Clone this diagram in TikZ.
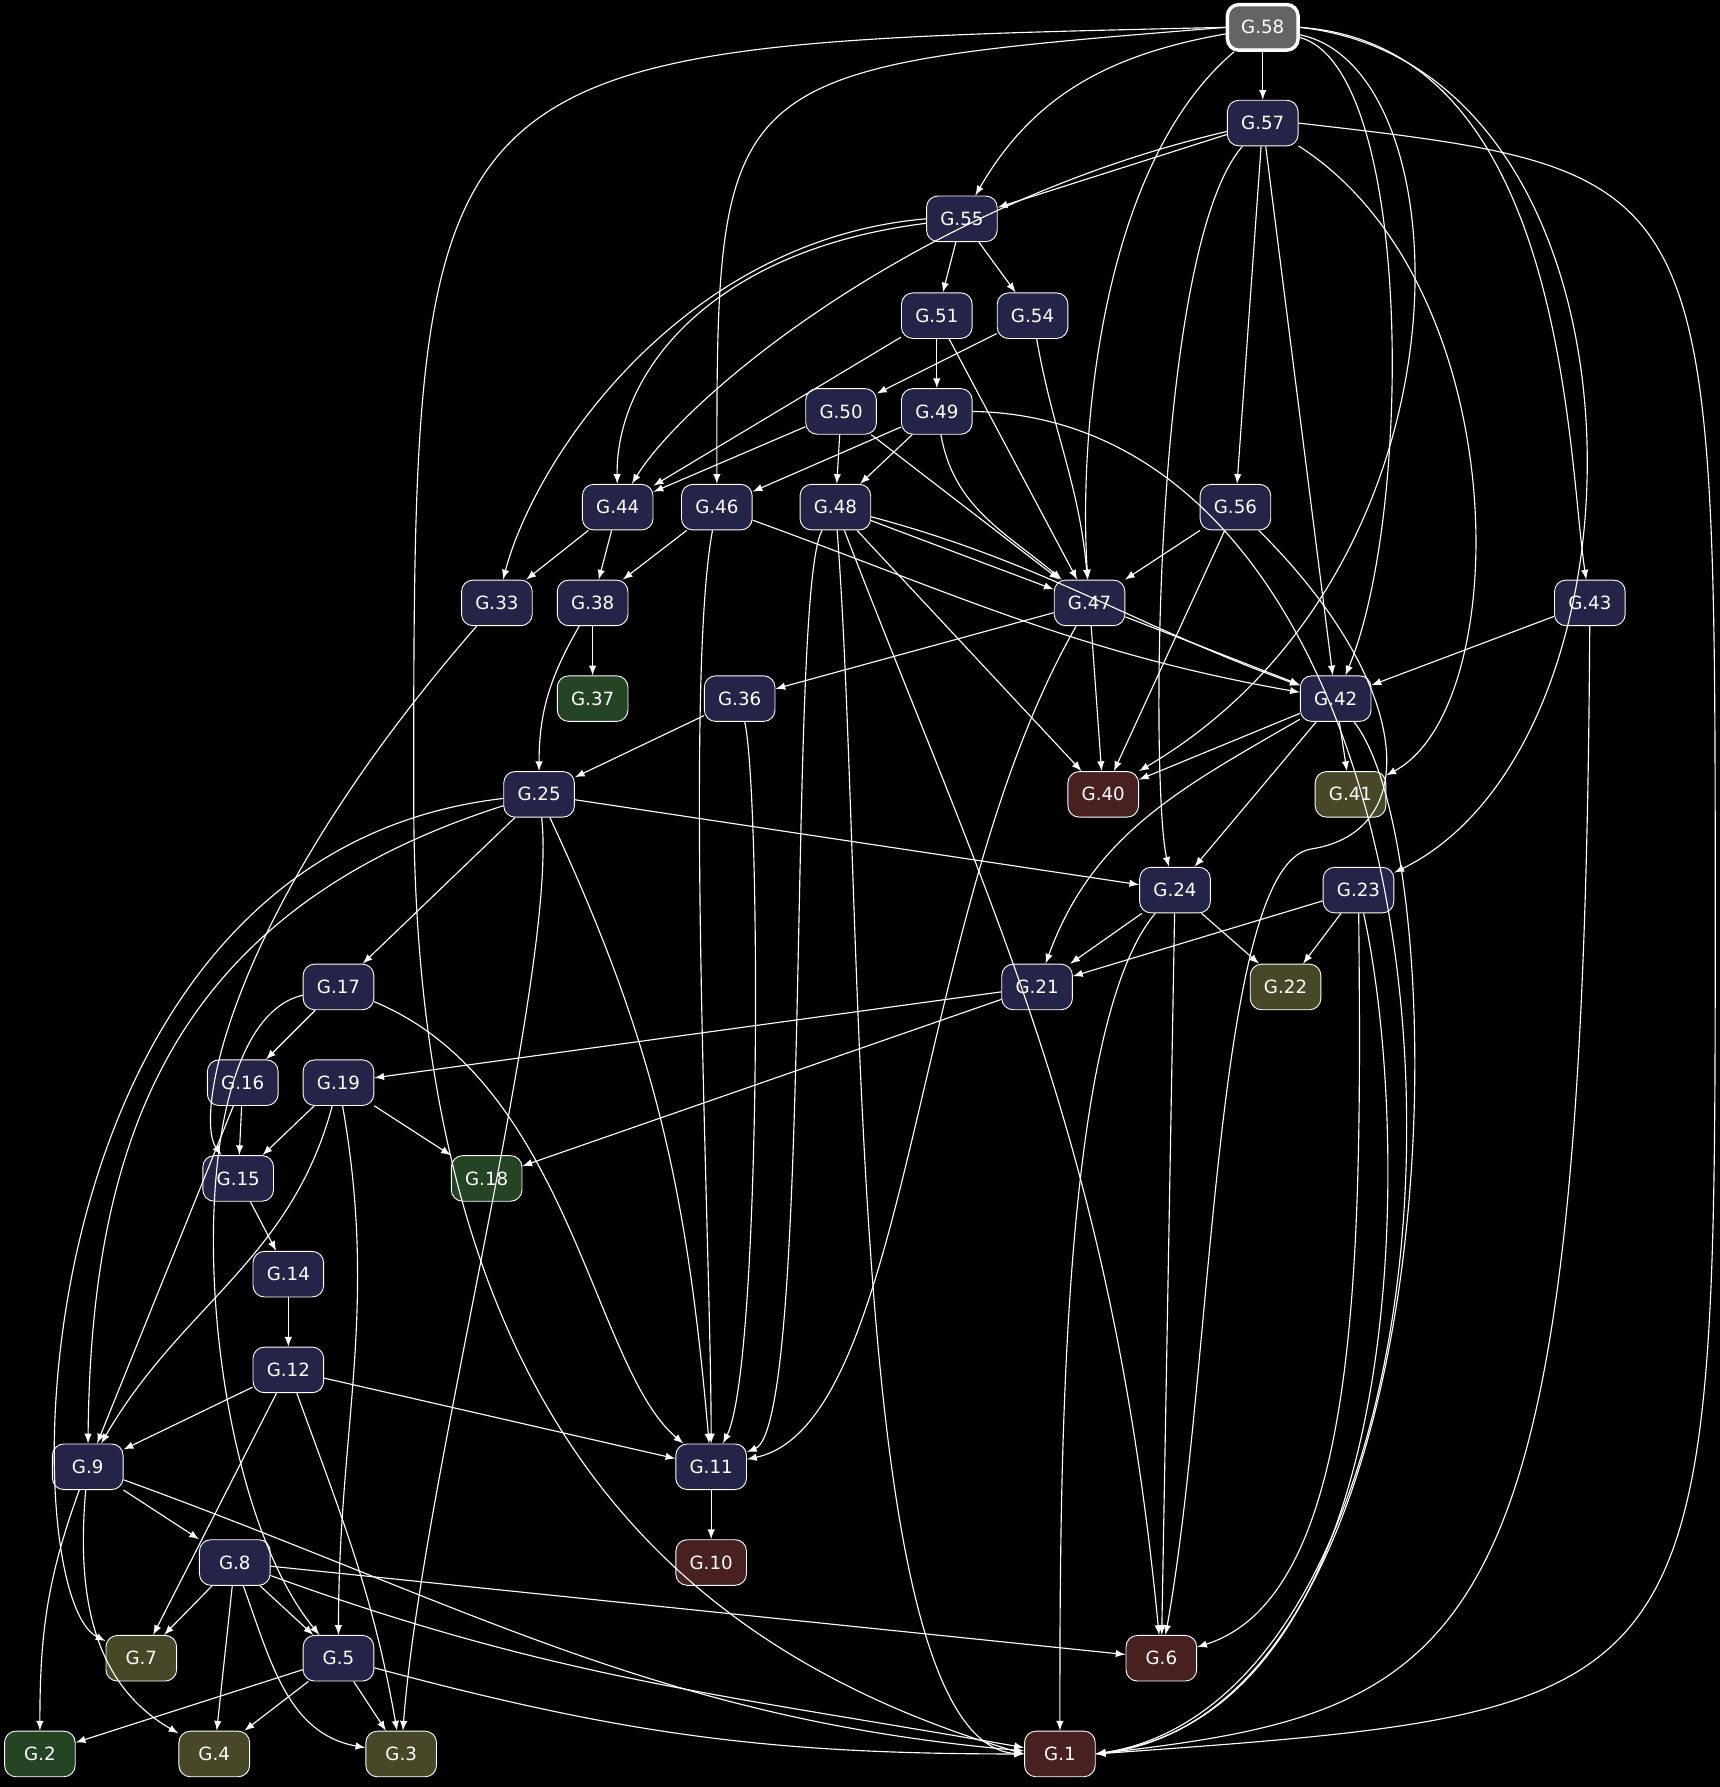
\documentclass[tikz,border=0pt]{standalone}
\usepackage{fontspec}
\setmainfont{DejaVu Sans}
\usetikzlibrary{positioning}
\definecolor{navy}{RGB}{36,36,72}
\definecolor{leaf}{RGB}{36,68,36}
\definecolor{olive}{RGB}{72,72,40}
\definecolor{maroon}{RGB}{72,32,32}
\definecolor{rootgray}{RGB}{100,100,100}
\begin{document}
\begin{tikzpicture}[x=0.5pt,y=0.5pt,inner sep=0pt]
\tikzstyle{main}=[rectangle, rounded corners=5pt, minimum width=31pt, minimum height=20pt, draw=white, thin, text=white, font=\fontsize{8}{9}\selectfont, fill=navy]
\tikzstyle{connect}=[-latex, white, line width=0.5pt]
\useasboundingbox (0,0) rectangle (1509,-1568);
\fill[black] (0,0) rectangle (1509,-1568);
\node[main,fill=rootgray,line width=1.5pt] (n58) at (1108,-24) {G.58};
\node[main] (n57) at (1108,-108) {G.57};
\node[main] (n55) at (844,-192) {G.55};
\node[main] (n51) at (822,-277) {G.51};
\node[main] (n54) at (906,-277) {G.54};
\node[main] (n50) at (738,-361) {G.50};
\node[main] (n49) at (822,-361) {G.49};
\node[main] (n44) at (542,-445) {G.44};
\node[main] (n46) at (629,-445) {G.46};
\node[main] (n48) at (733,-445) {G.48};
\node[main] (n56) at (1084,-445) {G.56};
\node[main] (n33) at (436,-529) {G.33};
\node[main] (n38) at (520,-529) {G.38};
\node[main] (n47) at (956,-529) {G.47};
\node[main] (n43) at (1395,-529) {G.43};
\node[main,fill=leaf] (n37) at (520,-613) {G.37};
\node[main] (n36) at (649,-613) {G.36};
\node[main] (n42) at (1172,-613) {G.42};
\node[main] (n25) at (473,-697) {G.25};
\node[main,fill=maroon] (n40) at (968,-697) {G.40};
\node[main,fill=olive] (n41) at (1185,-697) {G.41};
\node[main] (n24) at (1031,-781) {G.24};
\node[main] (n23) at (1192,-781) {G.23};
\node[main] (n17) at (297,-866) {G.17};
\node[main] (n21) at (910,-866) {G.21};
\node[main,fill=olive] (n22) at (1128,-866) {G.22};
\node[main] (n16) at (213,-950) {G.16};
\node[main] (n19) at (297,-950) {G.19};
\node[main] (n15) at (209,-1034) {G.15};
\node[main,fill=leaf] (n18) at (427,-1034) {G.18};
\node[main] (n14) at (253,-1118) {G.14};
\node[main] (n12) at (253,-1202) {G.12};
\node[main] (n9) at (77,-1287) {G.9};
\node[main] (n11) at (624,-1287) {G.11};
\node[main] (n8) at (206,-1371) {G.8};
\node[main,fill=maroon] (n10) at (624,-1371) {G.10};
\node[main,fill=olive] (n7) at (124,-1455) {G.7};
\node[main] (n5) at (297,-1455) {G.5};
\node[main,fill=maroon] (n6) at (1019,-1455) {G.6};
\node[main,fill=leaf] (n2) at (35,-1539) {G.2};
\node[main,fill=olive] (n4) at (188,-1539) {G.4};
\node[main,fill=olive] (n3) at (352,-1539) {G.3};
\node[main,fill=maroon] (n1) at (930,-1539) {G.1};
\coordinate (w58) at (363,-700);
\coordinate (w57) at (1505,-800);
\coordinate (w56) at (1150,-745);
% long edges
\draw[connect] (n58.west) .. controls (363,-40) .. (w58) .. controls (363,-1250) and (600,-1450) .. (n1.west);
\draw[connect] (n58.west) .. controls (629,-60) .. (n46);
\draw[connect] (n58) .. controls (960,-150) and (947,-400) .. (n47);
\draw[connect] (n58) .. controls (1240,-60) and (1240,-450) .. (n42);
\draw[connect] (n58) .. controls (1287,-60) and (1300,-500) .. (n40.north east);
\draw[connect] (n58.east) .. controls (1375,-40) and (1375,-400) .. (n43);
\draw[connect] (n58.east) .. controls (1460,-60) and (1460,-650) .. (n23);
\draw[connect] (n57.east) .. controls (1505,-150) .. (w57) .. controls (1505,-1500) .. (n1.east);
\draw[connect] (n57) .. controls (1010,-220) and (1010,-700) .. (n24);
\draw[connect] (n57) .. controls (1330,-250) and (1330,-620) .. (n41);
\draw[connect] (n57) .. controls (800,-180) and (600,-350) .. (n44);
\draw[connect] (n55) .. controls (620,-220) and (540,-330) .. (n44);
\draw[connect] (n55.west) .. controls (600,-210) and (470,-400) .. (n33);
\draw[connect] (n49.east) .. controls (1340,-370) and (1340,-1480) .. (n1.east);
\draw[connect] (n48) .. controls (760,-800) and (740,-1530) .. (n1.west);
\draw[connect] (n48) .. controls (870,-800) and (975,-1000) .. (n6);
\draw[connect] (n48) .. controls (690,-520) and (714,-1250) .. (n11);
\draw[connect] (n46) .. controls (600,-600) and (624,-1100) .. (n11);
\draw[connect] (n47) .. controls (800,-800) and (800,-1250) .. (n11);
\draw[connect] (n36) .. controls (668,-700) and (668,-1200) .. (n11);
\draw[connect] (n42) .. controls (1280,-750) and (1280,-1500) .. (n1.east);
\draw[connect] (n43) .. controls (1390,-1450) and (1300,-1500) .. (n1.east);
\draw[connect] (n56) .. controls (1240,-600) and (1250,-730) .. (w56) .. controls (1065,-760) and (1065,-1200) .. (n6);
\draw[connect] (n23) .. controls (1195,-1100) and (1195,-1400) .. (n6);
\draw[connect] (n23) .. controls (1240,-1000) and (1240,-1500) .. (n1.east);
\draw[connect] (n24) .. controls (930,-900) and (930,-1300) .. (n1);
\draw[connect] (n25) .. controls (150,-800) and (80,-1000) .. (n9);
\draw[connect] (n25) .. controls (10,-750) and (10,-1400) .. (n7);
\draw[connect] (n25) .. controls (490,-850) and (370,-1300) .. (n3);
\draw[connect] (n33) .. controls (200,-800) and (170,-980) .. (n15);
\draw[connect] (n17) .. controls (150,-900) and (170,-1300) .. (n5);
\draw[connect] (n17) .. controls (500,-950) and (520,-1200) .. (n11);
% short edges
\path (n58) edge[connect] (n57) edge[connect,out=190,in=60] (n55);
\path (n57) edge[connect] (n55) edge[connect] (n56) edge[connect] (n42);
\path (n55) edge[connect] (n51) edge[connect] (n54);
\path (n51) edge[connect] (n49) edge[connect] (n44) edge[connect] (n47);
\path (n54) edge[connect] (n50) edge[connect,out=-80,in=95] (n47);
\path (n50) edge[connect] (n48) edge[connect] (n44) edge[connect] (n47);
\path (n49) edge[connect] (n46) edge[connect] (n48) edge[connect,out=-80,in=140] (n47);
\path (n44) edge[connect] (n33) edge[connect] (n38);
\path (n46) edge[connect] (n38) edge[connect,out=-20,in=170] (n42);
\path (n48) edge[connect] (n47) edge[connect,out=-15,in=160] (n42) edge[connect] (n40);
\path (n56) edge[connect] (n47) edge[connect] (n40);
\path (n38) edge[connect] (n37) edge[connect,out=-120,in=90] (n25);
\path (n47) edge[connect] (n36) edge[connect] (n40) edge[connect] (n42);
\path (n43) edge[connect] (n42);
\path (n36) edge[connect] (n25);
\path (n42) edge[connect] (n40) edge[connect] (n41) edge[connect] (n24) edge[connect,out=-150,in=70] (n21);
\path (n25) edge[connect] (n24) edge[connect] (n17) edge[connect,out=-65,in=95] (n11);
\path (n24) edge[connect] (n21) edge[connect] (n22) edge[connect] (n6);
\path (n23) edge[connect] (n21) edge[connect] (n22);
\path (n17) edge[connect] (n16);
\path (n21) edge[connect] (n19) edge[connect] (n18);
\path (n16) edge[connect] (n15) edge[connect] (n9);
\path (n19) edge[connect] (n15) edge[connect] (n18) edge[connect,out=-105,in=60] (n9) edge[connect,out=-80,in=90] (n5);
\path (n15) edge[connect] (n14);
\path (n14) edge[connect] (n12);
\path (n12) edge[connect] (n9) edge[connect] (n11) edge[connect] (n7) edge[connect,out=-70,in=100] (n3);
\path (n9) edge[connect] (n8) edge[connect,out=-20,in=175] (n1) edge[connect,out=-110,in=90] (n2) edge[connect,out=-95,in=150] (n4);
\path (n11) edge[connect] (n10);
\path (n8) edge[connect] (n7) edge[connect] (n5) edge[connect] (n4) edge[connect,out=-70,in=170] (n3)
  edge[connect,out=-20,in=170] (n1) edge[connect] (n6);
\path (n5) edge[connect] (n2) edge[connect] (n4) edge[connect] (n3) edge[connect,out=-15,in=180] (n1);
\end{tikzpicture}
\end{document}
